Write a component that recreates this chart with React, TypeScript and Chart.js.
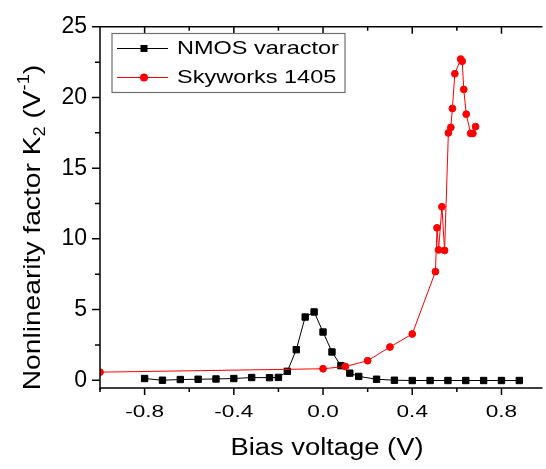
import React, { useEffect, useRef } from 'react';
import { Chart, registerables } from 'chart.js';

Chart.register(...registerables);

// ---- data ----
const nmosV = [-0.8, -0.72, -0.64, -0.56, -0.48, -0.4, -0.32, -0.24, -0.2, -0.16, -0.12, -0.08, -0.04, 0, 0.04, 0.08, 0.12, 0.16, 0.24, 0.32, 0.4, 0.48, 0.56, 0.64, 0.72, 0.8, 0.88];
const nmosK = [0.12, 0.0, 0.05, 0.07, 0.09, 0.12, 0.19, 0.18, 0.2, 0.63, 2.16, 4.47, 4.83, 3.41, 2.0, 1.03, 0.5, 0.27, 0.07, 0.0, -0.02, -0.02, -0.02, -0.02, -0.02, -0.02, -0.02];
const skyV = [-1.0, 0.0, 0.1, 0.2, 0.3, 0.4, 0.504, 0.511, 0.518, 0.533, 0.545, 0.562, 0.573, 0.58, 0.591, 0.617, 0.624, 0.631, 0.642, 0.662, 0.672, 0.684];
const skyK = [0.57, 0.81, 0.97, 1.38, 2.35, 3.27, 7.68, 10.78, 9.22, 12.27, 9.18, 17.49, 17.88, 19.22, 21.68, 22.72, 22.56, 20.57, 18.82, 17.46, 17.46, 17.94];

const seriesNames = ['NMOS varactor', 'Skyworks 1405'];
const xMajorTicks = [-0.8, -0.4, 0, 0.4, 0.8];
const xTickLabels = ['-0.8', '-0.4', '0.0', '0.4', '0.8'];
const xMinorTicks = [-1.0, -0.6, -0.2, 0.2, 0.6];
const yMajorTicks = [0, 5, 10, 15, 20, 25];
const yTickLabels = ['0', '5', '10', '15', '20', '25'];
const yMinorTicks = [2.5, 7.5, 12.5, 17.5, 22.5];
const xTitle = 'Bias voltage (V)';
const yTitleParts = [
  { t: 'Nonlinearity factor K', k: 'n' },
  { t: '2', k: 'sub' },
  { t: ' (V', k: 'n' },
  { t: '-1', k: 'sup' },
  { t: ')', k: 'n' },
];

const FAM = '"Liberation Sans", Arial, sans-serif';
const fnt = (s: number) => `${s}px ${FAM}`;

function stretchText(ctx: CanvasRenderingContext2D, text: string, x: number, y: number, size: number, sx: number, align: 'left' | 'center' | 'right') {
  ctx.save();
  ctx.font = fnt(size);
  ctx.textAlign = 'left';
  ctx.textBaseline = 'alphabetic';
  const w = ctx.measureText(text).width * sx;
  const x0 = align === 'center' ? x - w / 2 : align === 'right' ? x - w : x;
  ctx.translate(x0, y);
  ctx.scale(sx, 1);
  ctx.fillStyle = '#000';
  ctx.fillText(text, 0, 0);
  ctx.restore();
}

const decor = {
  id: 'decor',
  afterDraw(chart: any) {
    const ctx: CanvasRenderingContext2D = chart.ctx;
    const { left, right, top, bottom } = chart.chartArea;
    const xs = chart.scales.x;
    const ys = chart.scales.y;
    ctx.save();
    ctx.strokeStyle = '#000';
    ctx.lineWidth = 1.5;
    // axis lines
    ctx.beginPath();
    ctx.moveTo(left, top);
    ctx.lineTo(right + 2, top);
    ctx.moveTo(left, top);
    ctx.lineTo(left, bottom + 2);
    ctx.moveTo(left, bottom);
    ctx.lineTo(right + 2, bottom);
    ctx.stroke();
    // x ticks (bottom outward, top inward)
    ctx.beginPath();
    for (const v of xMajorTicks) {
      const px = xs.getPixelForValue(v);
      ctx.moveTo(px, bottom); ctx.lineTo(px, bottom + 7);
      ctx.moveTo(px, top); ctx.lineTo(px, top + 7);
    }
    for (const v of xMinorTicks) {
      const px = xs.getPixelForValue(v);
      ctx.moveTo(px, bottom); ctx.lineTo(px, bottom + 4);
      if (v > -1) { ctx.moveTo(px, top); ctx.lineTo(px, top + 4); }
    }
    // y ticks (outward)
    for (const v of yMajorTicks) {
      const py = ys.getPixelForValue(v);
      ctx.moveTo(left, py); ctx.lineTo(left - 8, py);
    }
    for (const v of yMinorTicks) {
      const py = ys.getPixelForValue(v);
      ctx.moveTo(left, py); ctx.lineTo(left - 5, py);
    }
    ctx.stroke();
    ctx.restore();

    // x tick labels
    xMajorTicks.forEach((v, i) => {
      stretchText(ctx, xTickLabels[i], xs.getPixelForValue(v), 417, 17, 1.33, 'center');
    });
    // x title
    stretchText(ctx, xTitle, 327, 455, 23, 1.19, 'center');

    // y title (rotated, with sub/superscripts)
    ctx.save();
    const F = 24.5;
    const sx = 1.15;
    const small = F * 0.65;
    ctx.translate(39.5, 227.5);
    ctx.rotate(-Math.PI / 2);
    ctx.scale(sx, 1);
    ctx.fillStyle = '#000';
    ctx.textBaseline = 'alphabetic';
    ctx.textAlign = 'left';
    let total = 0;
    const widths = yTitleParts.map((p) => {
      ctx.font = fnt(p.k === 'n' ? F : small);
      const w = ctx.measureText(p.t).width;
      total += w;
      return w;
    });
    let cx = -total / 2;
    yTitleParts.forEach((p, i) => {
      ctx.font = fnt(p.k === 'n' ? F : small);
      const off = p.k === 'sub' ? F * 0.22 : p.k === 'sup' ? -F * 0.42 : 0;
      ctx.fillText(p.t, cx, off);
      cx += widths[i];
    });
    ctx.restore();

    // legend
    ctx.save();
    ctx.strokeStyle = '#707070';
    ctx.lineWidth = 1.2;
    ctx.strokeRect(112, 33.5, 233, 59);
    const rows = [48.5, 77.5];
    chart.data.datasets.forEach((ds: any, i: number) => {
      const yy = rows[i];
      ctx.strokeStyle = ds.borderColor;
      ctx.lineWidth = 1;
      ctx.beginPath();
      ctx.moveTo(117, yy);
      ctx.lineTo(168, yy);
      ctx.stroke();
      ctx.fillStyle = ds.pointBackgroundColor;
      if (ds.pointStyle === 'rect') {
        ctx.fillRect(140.5, yy - 3.5, 7, 7);
      } else {
        ctx.beginPath();
        ctx.arc(144, yy, 4, 0, Math.PI * 2);
        ctx.fill();
      }
      stretchText(ctx, ds.label, 177, yy + 5.2, 18.5, 1.27, 'left');
    });
    ctx.restore();
  },
};

export default function App() {
  const ref = useRef<HTMLCanvasElement | null>(null);
  useEffect(() => {
    document.body.style.margin = '0';
    const canvas = ref.current!;
    const chart = new Chart(canvas, {
      type: 'scatter',
      data: {
        datasets: [
          {
            label: seriesNames[0],
            data: nmosV.map((x, i) => ({ x, y: nmosK[i] })),
            showLine: true,
            borderColor: '#000000',
            backgroundColor: '#000000',
            pointBackgroundColor: '#000000',
            pointBorderColor: '#000000',
            pointStyle: 'rect',
            pointRadius: 4.5,
            pointBorderWidth: 1,
            borderWidth: 1,
            order: 1,
          } as any,
          {
            label: seriesNames[1],
            data: skyV.map((x, i) => ({ x, y: skyK[i] })),
            showLine: true,
            borderColor: '#ff0000',
            backgroundColor: '#ff0000',
            pointBackgroundColor: '#ff0000',
            pointBorderColor: '#ff0000',
            pointStyle: 'circle',
            pointRadius: 3.4,
            pointBorderWidth: 1,
            borderWidth: 1,
            order: 0,
          } as any,
        ],
      },
      options: {
        responsive: false,
        animation: false,
        devicePixelRatio: 1,
        layout: { padding: { top: 19, left: 0, right: 0, bottom: 0 } },
        plugins: { legend: { display: false }, tooltip: { enabled: false } },
        scales: {
          x: {
            type: 'linear',
            min: -1.0,
            max: 0.975,
            grid: { display: false, drawTicks: false },
            border: { display: false },
            ticks: { display: false },
            afterBuildTicks: (s: any) => { s.ticks = xMajorTicks.map((v) => ({ value: v })); },
            afterFit: (s: any) => { s.height = 81; },
          },
          y: {
            type: 'linear',
            min: -0.55,
            max: 25,
            grid: { display: false, drawTicks: false },
            border: { display: false },
            ticks: {
              color: '#000',
              padding: 13,
              font: { family: '"Liberation Sans", Arial, sans-serif', size: 23 },
              callback: (v: any) => yTickLabels[yMajorTicks.indexOf(Number(v))] ?? '',
            },
            afterBuildTicks: (s: any) => { s.ticks = yMajorTicks.map((v) => ({ value: v })); },
            afterFit: (s: any) => { s.width = 100; },
          },
        },
      },
      plugins: [decor],
    } as any);
    return () => chart.destroy();
  }, []);
  return <canvas ref={ref} width={546} height={469} style={{ display: 'block', width: 546, height: 469 }} />;
}
